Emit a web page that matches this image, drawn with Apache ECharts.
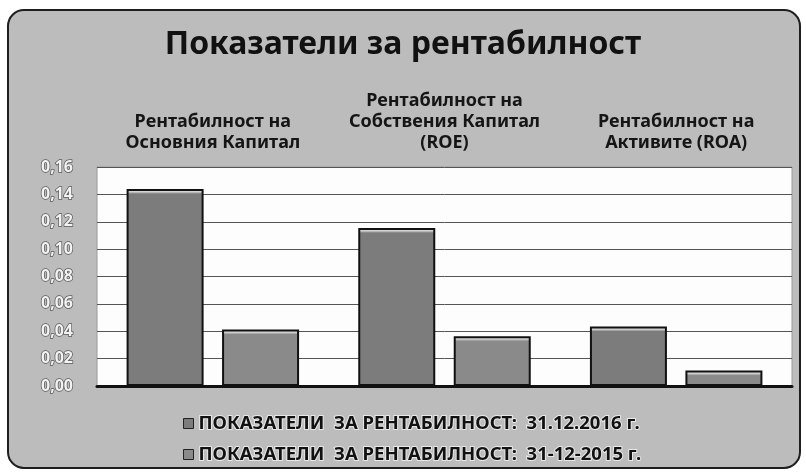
<!DOCTYPE html>
<html>
<head>
<meta charset="utf-8">
<script src="https://cdn.jsdelivr.net/npm/echarts@6/dist/echarts.min.js"></script>
<style>
  html, body { margin: 0; padding: 0; background: #ffffff; }
  #chart { width: 806px; height: 475px; }
</style>
</head>
<body>
<div id="chart"></div>
<script>
// categories (shown above the plot)
const categories = [
  'Рентабилност на\nОсновния Капитал',
  'Рентабилност на\nСобствения Капитал\n(ROE)',
  'Рентабилност на\nАктивите (ROA)'
]
const seriesNames = [
  'ПОКАЗАТЕЛИ  ЗА РЕНТАБИЛНОСТ:  31.12.2016 г.',
  'ПОКАЗАТЕЛИ  ЗА РЕНТАБИЛНОСТ:  31-12-2015 г.'
]
const values2016 = [0.144, 0.1155, 0.0435]
const values2015 = [0.0413, 0.0364, 0.0113]

const yMax = 0.16
const gridTop = 167
const gridBottom = 89
const plotHeight = 475 - gridTop - gridBottom

// light bevel at the top of each bar, about 5px high
function bevel(v, base) {
  const f = Math.min(0.5, 5 / (v / yMax * plotHeight))
  return {
    type: 'linear', x: 0, y: 0, x2: 0, y2: 1,
    colorStops: [
      { offset: 0, color: '#f4f4f4' },
      { offset: f * 0.6, color: '#cfcfcf' },
      { offset: f, color: base },
      { offset: 1, color: base }
    ]
  }
}

const chart = echarts.init(document.getElementById('chart'))
const font = 'Noto Sans'

chart.setOption({
  backgroundColor: '#ffffff',
  textStyle: { fontFamily: font },
  graphic: [{
    type: 'rect',
    z: -10,
    shape: { x: 8, y: 10, width: 792, height: 458, r: 16 },
    style: { fill: '#bcbcbc', stroke: '#1e1e1e', lineWidth: 2 }
  }],
  title: {
    text: 'Показатели за рентабилност',
    left: 'center',
    top: 24,
    textStyle: { fontFamily: font, fontSize: 32, fontWeight: 'bold', color: '#111111' }
  },
  legend: {
    orient: 'vertical',
    left: 178,
    top: 408,
    itemGap: 10,
    itemWidth: 10,
    itemHeight: 10,
    icon: 'rect',
    itemStyle: { borderColor: '#222', borderWidth: 1 },
    textStyle: {
      fontFamily: font, fontSize: 18.5, fontWeight: 'bold', color: '#111',
      textBorderColor: '#e8e8e8', textBorderWidth: 2
    },
    data: seriesNames
  },
  grid: {
    left: 97,
    right: 14,
    top: gridTop,
    bottom: gridBottom,
    show: true,
    backgroundColor: '#fdfdfd',
    borderColor: '#9a9a9a',
    borderWidth: 1
  },
  xAxis: [{
    type: 'category',
    position: 'bottom',
    data: categories,
    axisLine: { lineStyle: { color: '#111', width: 3 } },
    axisTick: { show: false },
    axisLabel: { show: false }
  }, {
    type: 'category',
    position: 'top',
    data: categories,
    axisLine: { show: false },
    axisTick: { show: false },
    axisLabel: {
      interval: 0,
      hideOverlap: false,
      margin: 14,
      fontFamily: font,
      fontSize: 18,
      fontWeight: 'bold',
      color: '#151515',
      lineHeight: 21
    }
  }],
  yAxis: {
    type: 'value',
    min: 0,
    max: yMax,
    interval: 0.02,
    axisLine: { show: false },
    axisTick: { show: false },
    axisLabel: {
      margin: 24,
      fontFamily: font,
      fontSize: 16,
      fontWeight: 'bold',
      color: '#f2f2f2',
      textBorderColor: '#5a5a5a',
      textBorderWidth: 1.5,
      formatter: v => v.toFixed(2).replace('.', ',')
    },
    splitLine: { lineStyle: { color: '#555', width: 1 } }
  },
  series: [{
    name: seriesNames[0],
    type: 'bar',
    xAxisIndex: 0,
    barWidth: 77,
    barGap: '24%',
    itemStyle: { color: '#7c7c7c', borderColor: '#111', borderWidth: 2 },
    data: values2016.map(v => ({ value: v, itemStyle: { color: bevel(v, '#7c7c7c') } }))
  }, {
    name: seriesNames[1],
    type: 'bar',
    xAxisIndex: 0,
    barWidth: 77,
    barGap: '24%',
    itemStyle: { color: '#8a8a8a', borderColor: '#111', borderWidth: 2 },
    data: values2015.map(v => ({ value: v, itemStyle: { color: bevel(v, '#8a8a8a') } }))
  }]
})
</script>
</body>
</html>
